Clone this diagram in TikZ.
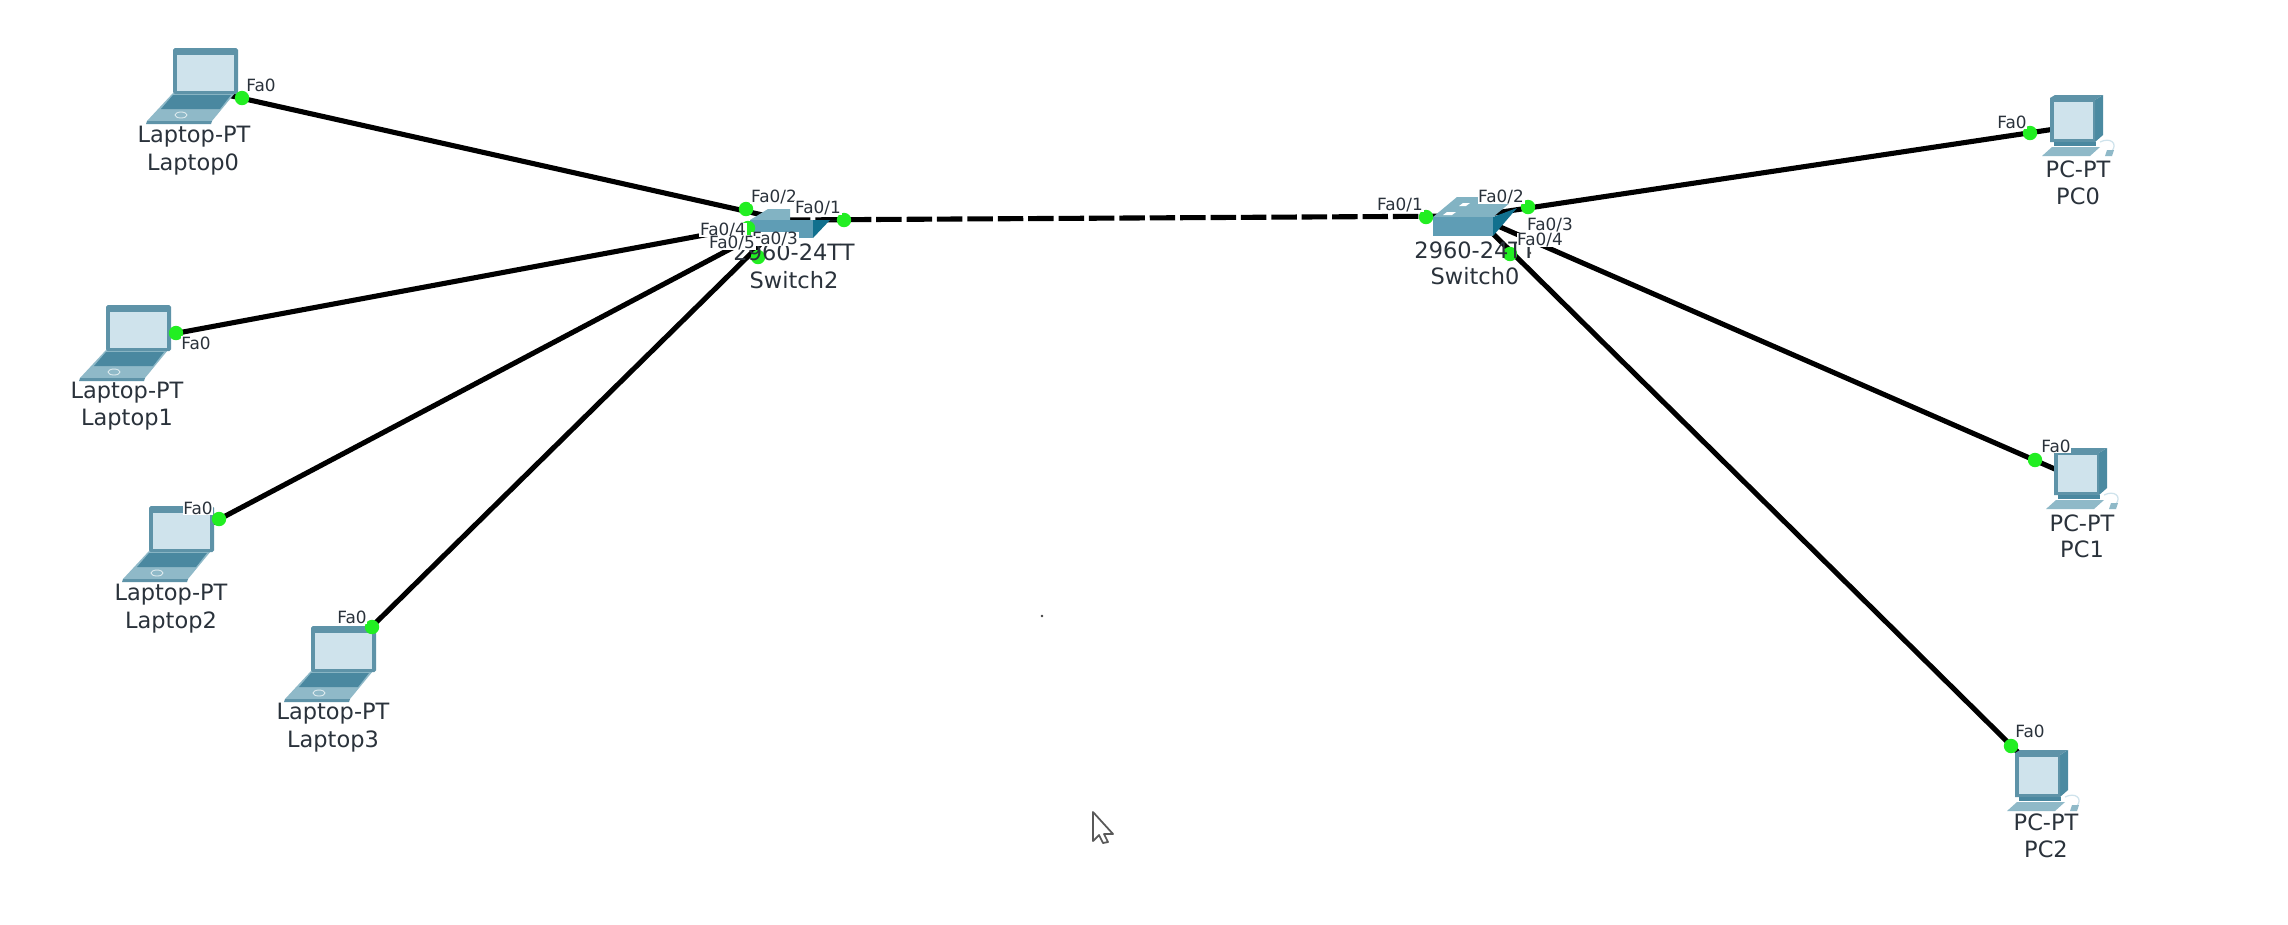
\documentclass[tikz,border=0pt]{standalone}
\usepackage{fontspec}
\setmainfont{DejaVu Sans}
\definecolor{lidc}{HTML}{5E93A8}
\definecolor{scrc}{HTML}{CFE3EC}
\definecolor{keyc}{HTML}{4A88A0}
\definecolor{basec}{HTML}{8FB9C8}
\definecolor{frontc}{HTML}{5F9DB5}
\definecolor{topc}{HTML}{82B3C3}
\definecolor{sidec}{HTML}{11708E}
\definecolor{portc}{HTML}{22EE22}
\definecolor{textc}{HTML}{2A323B}
\tikzset{
  x=0.02cm,y=-0.02cm,
  link/.style={line width=2.9pt,black},
  trunk/.style={line width=2.9pt,black,dash pattern=on 14.5pt off 2.8pt},
  portdot/.style={circle,fill=portc,draw=none,minimum size=8.2pt,inner sep=0pt},
  devname/.style={font=\fontsize{12.8}{14}\selectfont,text=textc,inner sep=0pt},
  portname/.style={font=\fontsize{9.6}{11}\selectfont,text=textc,fill=white,inner xsep=0.4pt,inner ysep=0.2pt},
  laptopicon/.pic={
    \fill[basec] (0,45)--(62,45)--(39,73)--(-26,73)--cycle;
    \fill[lidc] (-26,73)--(39,73)--(38,76)--(-27,76)--cycle;
    \fill[keyc] (0,47)--(58,47)--(47,61)--(-12,61)--cycle;
    \draw[white!70!basec,line width=.5pt] (8,67) ellipse (6 and 3);
    \fill[lidc,rounded corners=1pt] (0,0) rectangle (65,46);
    \fill[scrc] (4,7) rectangle (61,43);
  },
  pcicon/.pic={
    \fill[lidc!75!sidec] (45,5)--(53,0)--(53,40)--(45,47)--cycle;
    \fill[lidc] (0,3)--(5,0)--(53,0)--(45,5)--(45,47)--(0,47)--cycle;
    \fill[scrc] (4,7) rectangle (43,44);
    \fill[keyc] (4,47) rectangle (46,51);
    \fill[basec] (-8,61)--(2,52)--(50,52)--(40,61)--cycle;
    \draw[scrc,line width=.7pt] (50,47) .. controls (60,42) and (68,48) .. (62,56);
    \fill[basec] (57,55)--(64,55)--(62,61)--(55,61)--cycle;
  },
}
\begin{document}
\begin{tikzpicture}
\useasboundingbox (0,0) rectangle (2288,924);
\fill[white] (0,0) rectangle (2288,924);
% device centres
\coordinate (L0c) at (205,90);
\coordinate (L1c) at (140,340);
\coordinate (L2c) at (180,540);
\coordinate (L3c) at (345,653);
\coordinate (S2c) at (785,220);
\coordinate (S0c) at (1475,216);
\coordinate (P0c) at (2075,126);
\coordinate (P1c) at (2080,480);
\coordinate (P2c) at (2040,774);
% connectors
\draw[link] (L0c) -- (S2c);
\draw[link] (L1c) -- (S2c);
\draw[link] (L2c) -- (S2c);
\draw[link] (L3c) -- (S2c);
\draw[trunk] (S2c) -- (S0c);
\draw[link] (P0c) -- (S0c);
\draw[link] (P1c) -- (S0c);
\draw[link] (P2c) -- (S0c);
% device icons
\pic at (173,48) {laptopicon};
\pic at (106,305) {laptopicon};
\pic at (149,506) {laptopicon};
\pic at (311,626) {laptopicon};
\pic at (2050,95) {pcicon};
\pic at (2054,448) {pcicon};
\pic at (2015,750) {pcicon};
% switches
\fill[topc] (750,220)--(768,209)--(790,209)--(790,220)--(840,220)--(813,220)--cycle;
\fill[frontc] (750,220) rectangle (813,238);
\fill[sidec] (813,220)--(830,220)--(813,238)--cycle;
\fill[topc] (1433,217)--(1457,197)--(1517,197)--(1493,217)--cycle;
\fill[white] (1463,203) -- (1470,203) -- (1466,206) -- (1459,206) -- cycle;
\fill[white] (1447,212) -- (1456,212) -- (1452,215) -- (1443,215) -- cycle;
\fill[frontc] (1433,217) rectangle (1493,236);
\fill[sidec] (1493,217)--(1517,208)--(1493,236)--cycle;
% port dots
\node[portdot] (d0) at (242,98) {};
\node[portdot] (d1) at (176,333) {};
\node[portdot] (d2) at (219,519) {};
\node[portdot] (d3) at (372,627) {};
\node[portdot] (s22) at (746,209) {};
\node[portdot] (s24) at (748,228) {};
\node[portdot] (s23) at (758,257) {};
\node[portdot] (s21) at (844,220) {};
\node[portdot] (s01) at (1426,217) {};
\node[portdot] (s02) at (1528,207) {};
\node[portdot] (s04) at (1510,254) {};
\node[portdot] (p0) at (2030,133) {};
\node[portdot] (p1) at (2035,460) {};
\node[portdot] (p2) at (2011,746) {};
% device labels
\node[devname] (n0a) at (194,137) {Laptop-PT};
\node[devname] (n0b) at (193,164) {Laptop0};
\node[devname] (n1a) at (127,393) {Laptop-PT};
\node[devname] (n1b) at (127,420) {Laptop1};
\node[devname] (n2a) at (171,595) {Laptop-PT};
\node[devname] (n2b) at (171,622) {Laptop2};
\node[devname] (n3a) at (333,714) {Laptop-PT};
\node[devname] (n3b) at (333,741) {Laptop3};
\node[devname] (n4a) at (794,252) {2960-24TT};
\node[devname] (n4b) at (794,280) {Switch2};
\node[devname] (n5a) at (1475,250) {2960-24TT};
\node[devname] (n5b) at (1475,276) {Switch0};
\node[devname] (n6a) at (2078,169) {PC-PT};
\node[devname] (n6b) at (2078,196) {PC0};
\node[devname] (n7a) at (2082,523) {PC-PT};
\node[devname] (n7b) at (2082,549) {PC1};
\node[devname] (n8a) at (2046,822) {PC-PT};
\node[devname] (n8b) at (2046,849) {PC2};
% port labels
\node[portname] (t0) at (261,85) {Fa0};
\node[portname] (t1) at (196,343) {Fa0};
\node[portname] (t2) at (198,508) {Fa0};
\node[portname] (t3) at (352,617) {Fa0};
\node[portname] (t4) at (2012,122) {Fa0};
\node[portname] (t5) at (2056,446) {Fa0};
\node[portname] (t6) at (2030,731) {Fa0};
\node[portname] (a2) at (774,197) {Fa0/2};
\node[portname] (a1) at (818,208) {Fa0/1};
\node[portname] (a4) at (723,230) {Fa0/4};
\node[portname] (a3) at (775,239) {Fa0/3};
\node[portname] (a5) at (732,243) {Fa0/5};
\node[portname] (b1) at (1400,205) {Fa0/1};
\node[portname] (b2) at (1501,197) {Fa0/2};
\node[portname] (b3) at (1550,225) {Fa0/3};
\node[portname] (b4) at (1540,240) {Fa0/4};
% stray specks and pointer
\fill[black!75] (1042,616) circle (1.4);
\fill[black!70] (1530,253) circle (1.4);
\draw[black!65,fill=white,line width=1pt,line join=round]
  (1093,812)--(1113,834)--(1104,834)--(1108,842)--(1103,843)--(1099,835)--(1093,841)--cycle;
\end{tikzpicture}
\end{document}
